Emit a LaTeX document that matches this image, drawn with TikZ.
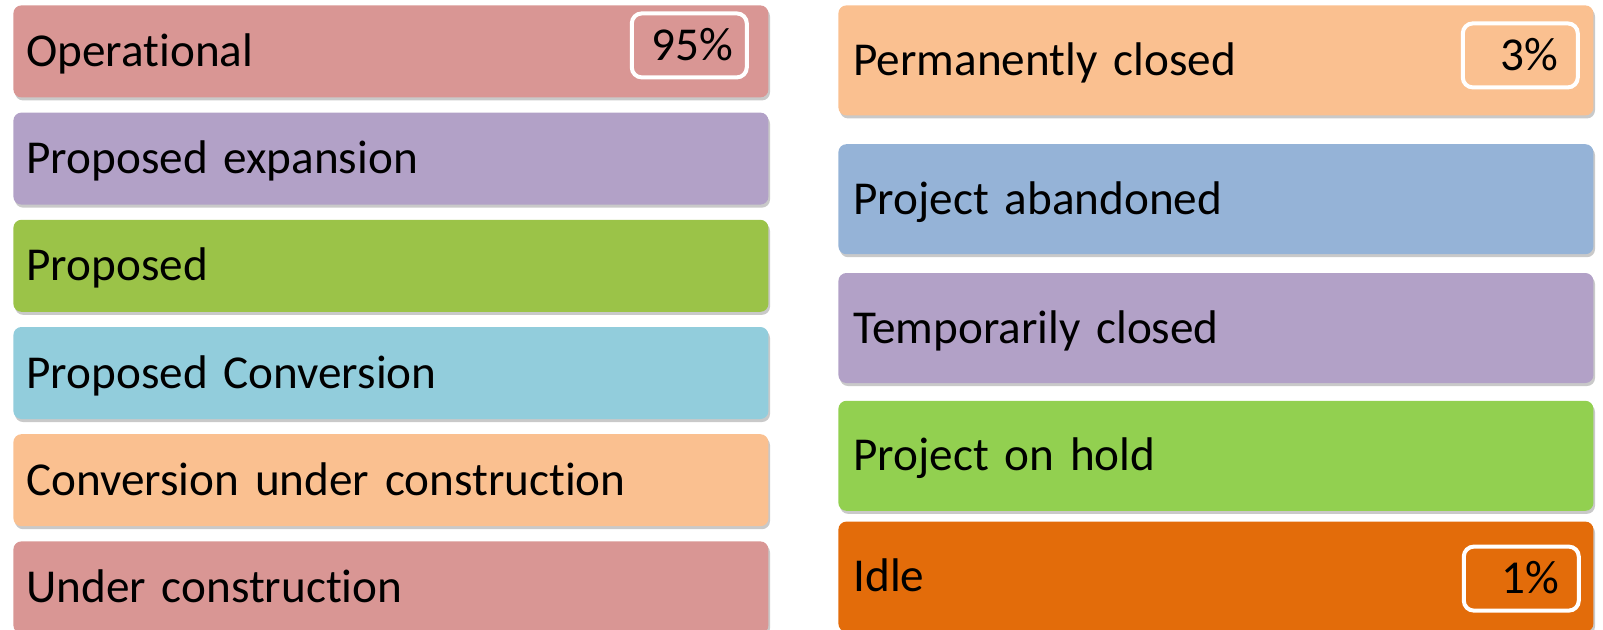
\documentclass[tikz,border=0pt]{standalone}
\usepackage{fontspec}
\setmainfont[Ligatures=NoCommon]{Carlito}
\usepackage{tikz}
\usetikzlibrary{positioning,shadows}
\definecolor{rose}{HTML}{D99694}
\definecolor{lilac}{HTML}{B2A1C7}
\definecolor{olive}{HTML}{9BC348}
\definecolor{sky}{HTML}{92CDDC}
\definecolor{peach}{HTML}{FAC090}
\definecolor{steel}{HTML}{95B3D7}
\definecolor{lime}{HTML}{92D050}
\definecolor{amber}{HTML}{E36C0A}
\tikzset{node distance=7.2pt, auto,
  bar/.style={rounded corners=4pt, minimum width=377.5pt, align=left,
    text height=15pt, text depth=0pt,
    font=\fontsize{23.6pt}{28pt}\selectfont,
    drop shadow={shadow xshift=0.8pt, shadow yshift=-1.5pt, opacity=0.3, fill=black!70}},
  lbar/.style={bar, minimum height=46pt, inner xsep=6.5pt, text width=364.5pt},
  rbar/.style={bar, minimum height=55pt, inner xsep=7.5pt, text width=362.5pt},
  badge/.style={draw=white, line width=2pt, rounded corners=5pt, minimum height=32pt,
    inner xsep=10pt, text width=37.5pt, align=right,
    text height=15pt, text depth=0pt, font=\fontsize{23.6pt}{28pt}\selectfont}}

\begin{document}
\begin{tikzpicture}

           \useasboundingbox (0,0) rectangle (801.5pt,-314.5pt);

           \node (Op)  [lbar, fill=rose, anchor=north west] at (6.5pt,-2.5pt) {Operational};
           \node (PE)  [lbar, fill=lilac, below=of Op] {Proposed expansion};
           \node (Pr)  [lbar, fill=olive, below=of PE] {Proposed};
           \node (PC)  [lbar, fill=sky, below=of Pr] {Proposed Conversion};
           \node (CUC) [lbar, fill=peach, below=of PC] {Conversion under construction};
           \node (UC)  [lbar, fill=rose, below=of CUC] {Under construction};

           \node (PCl) [rbar, fill=peach, anchor=north west] at (419pt,-2.5pt) {Permanently closed};
           \node (PA)  [rbar, fill=steel, below=14pt of PCl] {Project abandoned};
           \node (TC)  [rbar, fill=lilac, below=9pt of PA] {Temporarily closed};
           \node (PH)  [rbar, fill=lime, below=8.5pt of TC] {Project on hold};
           \node (Id)  [rbar, fill=amber, below=5pt of PH] {Idle};

           \node (Opp)  [badge, left=10pt of Op.east, yshift=3pt] {95\%};
           \node (PClp) [badge, left=7pt of PCl.east, yshift=2.5pt] {3\%};
           \node (Idp)  [badge, left=6.5pt of Id.east, yshift=-1pt] {1\%};

         \end{tikzpicture}
\end{document}
